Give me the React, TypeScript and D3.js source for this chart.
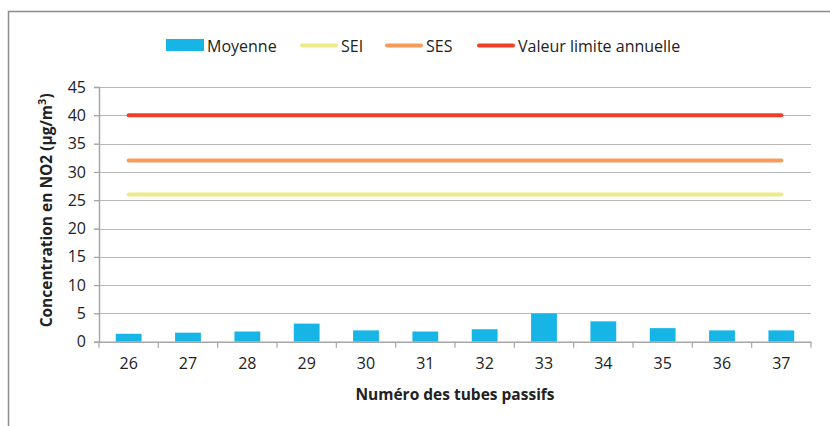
import React, { useEffect, useRef } from 'react'
import * as d3 from 'd3';

const W = 830;
const H = 426;

const tubes = ['26', '27', '28', '29', '30', '31', '32', '33', '34', '35', '36', '37'];
const moyenne = [1.4, 1.6, 1.8, 3.2, 2.0, 1.8, 2.2, 5.0, 3.6, 2.4, 2.0, 2.0];
const seuils = [
  { name: 'SEI', value: 26, color: '#ebeb8a' },
  { name: 'SES', value: 32, color: '#f59c5c' },
  { name: 'Valeur limite annuelle', value: 40, color: '#ef3f28' },
];
const yTicks = [0, 5, 10, 15, 20, 25, 30, 35, 40, 45];

const FONT = '"Open Sans", sans-serif';

const App = () => {
  const svgRef = useRef<SVGSVGElement>(null);

  useEffect(() => {
    const svg = d3.select(svgRef.current);
    svg.selectAll('*').remove();

    const margin = { left: 99, right: 19, top: 87, bottom: 84 };
    const x = d3.scaleBand().domain(tubes).range([margin.left, W - margin.right]).paddingInner(0.565).paddingOuter(0.2825);
    const xb = d3.scaleBand().domain(tubes).range([margin.left, W - margin.right]);
    const y = d3.scaleLinear().domain([0, 45]).range([H - margin.bottom - 0.3, margin.top]);

    // chart frame
    svg.append('rect')
      .attr('x', 8.5).attr('y', 11.5).attr('width', W).attr('height', H)
      .attr('fill', 'none').attr('stroke', '#8c8c8c').attr('stroke-width', 1.5);

    // gridlines
    svg.append('g')
      .selectAll('line')
      .data(yTicks.slice(1))
      .join('line')
        .attr('x1', margin.left - 5).attr('x2', W - margin.right)
        .attr('y1', d => Math.round(y(d)) + 0.5).attr('y2', d => Math.round(y(d)) + 0.5)
        .attr('stroke', '#b8b8b8').attr('stroke-width', 1.2);

    // bars
    svg.append('g')
      .selectAll('rect')
      .data(moyenne)
      .join('rect')
        .attr('x', (d, i) => x(tubes[i]))
        .attr('width', x.bandwidth())
        .attr('y', d => y(d))
        .attr('height', d => y(0) - y(d))
        .attr('fill', '#17b5e6');

    // threshold lines
    svg.append('g')
      .selectAll('line')
      .data(seuils)
      .join('line')
        .attr('x1', xb(tubes[0]) + xb.bandwidth() / 2)
        .attr('x2', xb(tubes[tubes.length - 1]) + xb.bandwidth() / 2)
        .attr('y1', d => y(d.value)).attr('y2', d => y(d.value))
        .attr('stroke', d => d.color).attr('stroke-width', 4).attr('stroke-linecap', 'round');

    // y axis
    const yAxis = svg.append('g')
      .attr('transform', `translate(${margin.left},0)`)
      .call(d3.axisLeft(y).tickValues(yTicks).tickSize(5).tickPadding(8));
    yAxis.select('.domain').attr('stroke', '#a6a6a6').attr('stroke-width', 1.5);
    yAxis.selectAll('.tick line').attr('stroke', '#a6a6a6').attr('stroke-width', 1.2);
    yAxis.selectAll('.tick text')
      .attr('font-family', FONT).attr('font-size', 16).attr('fill', '#222');

    // x axis
    const xAxis = svg.append('g')
      .attr('transform', `translate(0,${y(0)})`)
      .call(d3.axisBottom(xb).tickSizeOuter(0).tickSize(0).tickPadding(16));
    xAxis.select('.domain').attr('stroke', '#a6a6a6').attr('stroke-width', 1.5);
    xAxis.selectAll('.tick text')
      .attr('font-family', FONT).attr('font-size', 16).attr('fill', '#222');
    xAxis.append('g')
      .selectAll('line')
      .data([...tubes.map(t => xb(t)), xb(tubes[tubes.length - 1]) + xb.bandwidth()])
      .join('line')
        .attr('x1', d => d).attr('x2', d => d)
        .attr('y1', 0).attr('y2', 6)
        .attr('stroke', '#a6a6a6').attr('stroke-width', 1.2);

    // axis titles
    svg.append('text')
      .attr('x', (margin.left + W - margin.right) / 2)
      .attr('y', 400)
      .attr('text-anchor', 'middle')
      .attr('font-family', FONT).attr('font-size', 15.5).attr('font-weight', 'bold').attr('fill', '#222')
      .text('Numéro des tubes passifs');

    const yTitle = svg.append('text')
      .attr('transform', `translate(52,${(y(0) + y(45)) / 2 - 4}) rotate(-90)`)
      .attr('text-anchor', 'middle')
      .attr('font-family', FONT).attr('font-size', 15.5).attr('font-weight', 'bold').attr('fill', '#222');
    yTitle.append('tspan').text('Concentration en NO2 (µg/m');
    yTitle.append('tspan').attr('dy', -6).attr('font-size', 11).text('3');
    yTitle.append('tspan').attr('dy', 6).text(')');

    // legend
    const legend = svg.append('g').attr('font-family', FONT).attr('font-size', 16).attr('fill', '#222');
    const items = [
      { name: 'Moyenne', color: '#17b5e6', x: 166, bar: true },
      ...seuils.map((s, i) => ({ name: s.name, color: s.color, x: [300, 385, 477][i], bar: false })),
    ];
    items.forEach(it => {
      if (it.bar) {
        legend.append('rect').attr('x', it.x).attr('y', 39).attr('width', 38).attr('height', 12).attr('fill', it.color);
      } else {
        legend.append('line')
          .attr('x1', it.x + 2).attr('x2', it.x + 36).attr('y1', 45.5).attr('y2', 45.5)
          .attr('stroke', it.color).attr('stroke-width', 4).attr('stroke-linecap', 'round');
      }
      legend.append('text').attr('x', it.x + 41).attr('y', 51.5).text(it.name);
    });
  }, []);

  return (
    <div style={{ position: 'absolute', left: 0, top: 0 }}>
      <svg width={W} height={H} ref={svgRef} style={{ display: 'block', background: '#fff' }} />
    </div>
  );
}

export default App;
